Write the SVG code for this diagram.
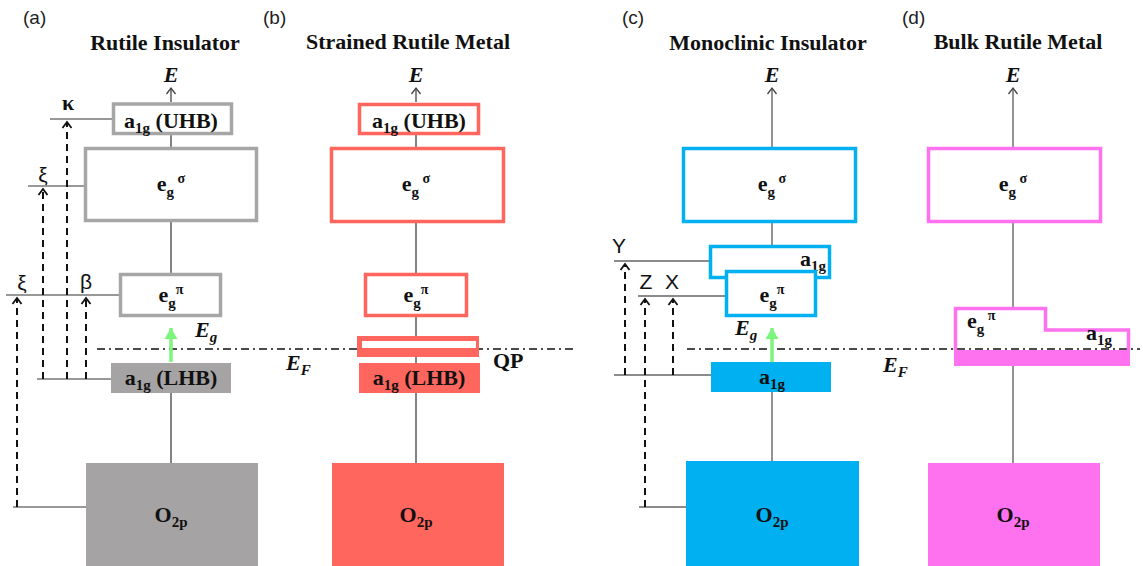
<svg xmlns="http://www.w3.org/2000/svg" width="1143" height="566" viewBox="0 0 1143 566">
<style>
.tag{font-family:"Liberation Sans",Arial,sans-serif;font-size:19px;fill:#222}
.title{font-family:"Liberation Serif","Times New Roman",serif;font-size:22px;font-weight:bold;fill:#111;text-anchor:middle}
.lbl{font-family:"Liberation Serif","Times New Roman",serif;font-size:22px;font-weight:bold;fill:#111}
.sub{font-size:15px}
.sup{font-size:14px}
.ital{font-family:"Liberation Serif","Times New Roman",serif;font-size:22px;font-weight:bold;font-style:italic;fill:#111}
.sans{font-family:"Liberation Sans",Arial,sans-serif;font-size:21px;fill:#111}
.ln{stroke:#333;stroke-width:1.2;fill:none}
.lng{stroke:#666;stroke-width:1.4;fill:none}
.dash{stroke:#111;stroke-width:2;stroke-dasharray:7 5;fill:none}
.ef{stroke:#111;stroke-width:1.6;stroke-dasharray:8 4 2 4;fill:none}
.grn{stroke:#7cf57c;stroke-width:3.5;fill:none}
.bg{fill:#fff;stroke:#a6a6a6;stroke-width:3.5}
.br{fill:#fff;stroke:#ff665e;stroke-width:3.5}
.bb{fill:#fff;stroke:#00b0f0;stroke-width:3.5}
.bp{fill:#fff;stroke:#ff72ef;stroke-width:3.5}
</style>
<defs>
<marker id="chev" viewBox="-8 -6 10 12" refX="0" refY="0" markerWidth="10" markerHeight="12" markerUnits="userSpaceOnUse" orient="auto" overflow="visible">
<path d="M-6,-4.5 L0,0 L-6,4.5" fill="none" stroke="#111" stroke-width="1.8"/>
</marker>
<marker id="chevg" viewBox="-8 -6 10 12" refX="0" refY="0" markerWidth="10" markerHeight="12" markerUnits="userSpaceOnUse" orient="auto" overflow="visible">
<path d="M-6,-4.5 L0,0 L-6,4.5" fill="none" stroke="#444" stroke-width="1.3"/>
</marker>
<marker id="tri" viewBox="-12 -7 13 14" refX="0" refY="0" markerWidth="13" markerHeight="14" markerUnits="userSpaceOnUse" orient="auto" overflow="visible">
<path d="M-11,-6.5 L0,0 L-11,6.5 Z" fill="#7cf57c"/>
</marker>
</defs>

<g id="connectors">
<path class="ef" d="M97,349 H573 M687,349 H1140"/>
<path class="ln" d="M171,102 V88" marker-end="url(#chevg)"/>
<path class="ln" d="M171,135 V147 M171,222 V273 M171,393 V463"/>
<path class="grn" d="M171,362 V328" marker-end="url(#tri)"/>
<path class="ln" d="M50,119 H112 M28,186 H84 M6,295 H120 M37,379 H111 M13,507 H86"/>
<path class="dash" d="M67,379 V122" marker-end="url(#chev)"/>
<path class="dash" d="M43,379 V189" marker-end="url(#chev)"/>
<path class="dash" d="M86,379 V298" marker-end="url(#chev)"/>
<path class="dash" d="M17,507 V298" marker-end="url(#chev)"/>
<path class="ln" d="M416,102 V88" marker-end="url(#chevg)"/>
<path class="ln" d="M416,135 V147 M416,223 V273 M416,317 V363 M416,393 V463"/>
<path class="lng" d="M772,147 V88" marker-end="url(#chevg)"/>
<path class="lng" d="M772,223 V245 M772,392 V461"/>
<path class="grn" d="M772,362 V328" marker-end="url(#tri)"/>
<path class="lng" d="M614,261 H709 M638,296 H725 M614,375 H711 M639,507 H686"/>
<path class="dash" d="M625,375 V264" marker-end="url(#chev)"/>
<path class="dash" d="M645,507 V299" marker-end="url(#chev)"/>
<path class="dash" d="M673,375 V299" marker-end="url(#chev)"/>
<path class="lng" d="M1013,147 V88" marker-end="url(#chevg)"/>
<path class="lng" d="M1013,223 V307 M1013,366 V463"/>
</g>

<g id="panel-a">
<text class="tag" x="23" y="24">(a)</text>
<text class="title" x="165" y="50">Rutile Insulator</text>
<text class="ital" x="171" y="82" text-anchor="middle">E</text>
<g id="a-uhb"><rect class="bg" x="113.5" y="104" width="118" height="29.5"/>
<text class="lbl" x="171" y="128" text-anchor="middle">a<tspan class="sub" dy="5">1g</tspan><tspan dy="-5"> (UHB)</tspan></text></g>
<g id="a-egs"><rect class="bg" x="85.5" y="148.5" width="171" height="72"/>
<text class="lbl" x="171" y="191" text-anchor="middle">e<tspan class="sub" dy="6">g</tspan><tspan class="sup" dy="-14"> σ</tspan></text></g>
<g id="a-egp"><rect class="bg" x="120.5" y="274.5" width="100" height="41"/>
<text class="lbl" x="171" y="302" text-anchor="middle">e<tspan class="sub" dy="6">g</tspan><tspan class="sup" dy="-14">π</tspan></text></g>
<text class="ital" x="195" y="337">E<tspan class="sub" dy="5">g</tspan></text>
<g id="a-lhb"><rect x="111" y="363" width="120" height="30" fill="#a5a3a3"/>
<text class="lbl" x="171" y="385" text-anchor="middle">a<tspan class="sub" dy="5">1g</tspan><tspan dy="-5"> (LHB)</tspan></text></g>
<g id="a-o2p"><rect x="86" y="463" width="172" height="103" fill="#a5a3a3"/>
<text class="lbl" x="171" y="522" text-anchor="middle">O<tspan class="sub" dy="5">2p</tspan></text></g>
<text class="lbl" x="68" y="110" text-anchor="middle" font-size="19">κ</text>
<text class="sans" x="43" y="182" text-anchor="middle">ξ</text>
<text class="sans" x="22" y="290" text-anchor="middle">ξ</text>
<text class="sans" x="86" y="289" text-anchor="middle">β</text>
</g>

<g id="panel-b">
<text class="tag" x="263" y="24">(b)</text>
<text class="title" x="408" y="49">Strained Rutile Metal</text>
<text class="ital" x="416" y="82" text-anchor="middle">E</text>
<g id="b-uhb"><rect class="br" x="359.5" y="104.5" width="119" height="29"/>
<text class="lbl" x="419" y="128" text-anchor="middle">a<tspan class="sub" dy="5">1g</tspan><tspan dy="-5"> (UHB)</tspan></text></g>
<g id="b-egs"><rect class="br" x="331.5" y="148.5" width="172" height="73"/>
<text class="lbl" x="416" y="191" text-anchor="middle">e<tspan class="sub" dy="6">g</tspan><tspan class="sup" dy="-14"> σ</tspan></text></g>
<g id="b-egp"><rect class="br" x="365.5" y="274.5" width="101" height="41"/>
<text class="lbl" x="416" y="302" text-anchor="middle">e<tspan class="sub" dy="6">g</tspan><tspan class="sup" dy="-14">π</tspan></text></g>
<g id="b-qp"><rect x="357" y="336" width="122" height="21" fill="#ff665e"/>
<rect x="362" y="341" width="114" height="7" fill="#fff"/>
<text class="lbl" x="493" y="368">QP</text></g>
<text class="ital" x="286" y="370">E<tspan class="sub" dy="5">F</tspan></text>
<g id="b-lhb"><rect x="359" y="363" width="121" height="30" fill="#ff665e"/>
<text class="lbl" x="419" y="385" text-anchor="middle">a<tspan class="sub" dy="5">1g</tspan><tspan dy="-5"> (LHB)</tspan></text></g>
<g id="b-o2p"><rect x="332" y="463" width="172" height="103" fill="#ff665e"/>
<text class="lbl" x="416" y="522" text-anchor="middle">O<tspan class="sub" dy="5">2p</tspan></text></g>
</g>

<g id="panel-c">
<text class="tag" x="622" y="24">(c)</text>
<text class="title" x="768" y="50">Monoclinic Insulator</text>
<text class="ital" x="772" y="82" text-anchor="middle">E</text>
<g id="c-egs"><rect class="bb" x="683.5" y="148.5" width="172" height="73"/>
<text class="lbl" x="772" y="191" text-anchor="middle">e<tspan class="sub" dy="6">g</tspan><tspan class="sup" dy="-14"> σ</tspan></text></g>
<g id="c-a1g"><rect class="bb" x="710.5" y="246.5" width="119" height="31"/>
<text class="lbl" x="800" y="266">a<tspan class="sub" dy="5">1g</tspan></text></g>
<g id="c-egp"><rect class="bb" x="726.5" y="271.5" width="89" height="44"/>
<text class="lbl" x="772" y="302" text-anchor="middle">e<tspan class="sub" dy="6">g</tspan><tspan class="sup" dy="-14">π</tspan></text></g>
<text class="ital" x="735" y="335">E<tspan class="sub" dy="5">g</tspan></text>
<g id="c-lhb"><rect x="711" y="362" width="120" height="30" fill="#00b0f0"/>
<text class="lbl" x="772" y="384" text-anchor="middle">a<tspan class="sub" dy="5">1g</tspan></text></g>
<g id="c-o2p"><rect x="686" y="461" width="173" height="105" fill="#00b0f0"/>
<text class="lbl" x="772" y="522" text-anchor="middle">O<tspan class="sub" dy="5">2p</tspan></text></g>
<text class="sans" x="619" y="253" text-anchor="middle">Y</text>
<text class="sans" x="646" y="289" text-anchor="middle">Z</text>
<text class="sans" x="672" y="289" text-anchor="middle">X</text>
</g>

<g id="panel-d">
<text class="tag" x="902" y="24">(d)</text>
<text class="title" x="1018" y="49">Bulk Rutile Metal</text>
<text class="ital" x="1013" y="82" text-anchor="middle">E</text>
<g id="d-egs"><rect class="bp" x="928.5" y="148.5" width="172" height="73"/>
<text class="lbl" x="1013" y="191" text-anchor="middle">e<tspan class="sub" dy="6">g</tspan><tspan class="sup" dy="-14"> σ</tspan></text></g>
<g id="d-egp-a1g"><rect x="954" y="350" width="176" height="16" fill="#ff72ef"/>
<path d="M955.5,350 V308.5 H1045.5 V330 H1128.5 V350" fill="none" stroke="#ff72ef" stroke-width="3.5"/>
<text class="lbl" x="967" y="328">e<tspan class="sub" dy="6">g</tspan><tspan class="sup" dy="-14"> π</tspan></text>
<text class="lbl" x="1086" y="340">a<tspan class="sub" dy="5">1g</tspan></text></g>
<text class="ital" x="883" y="372">E<tspan class="sub" dy="5">F</tspan></text>
<g id="d-o2p"><rect x="928" y="463" width="172" height="103" fill="#ff72ef"/>
<text class="lbl" x="1013" y="522" text-anchor="middle">O<tspan class="sub" dy="5">2p</tspan></text></g>
</g>
</svg>
